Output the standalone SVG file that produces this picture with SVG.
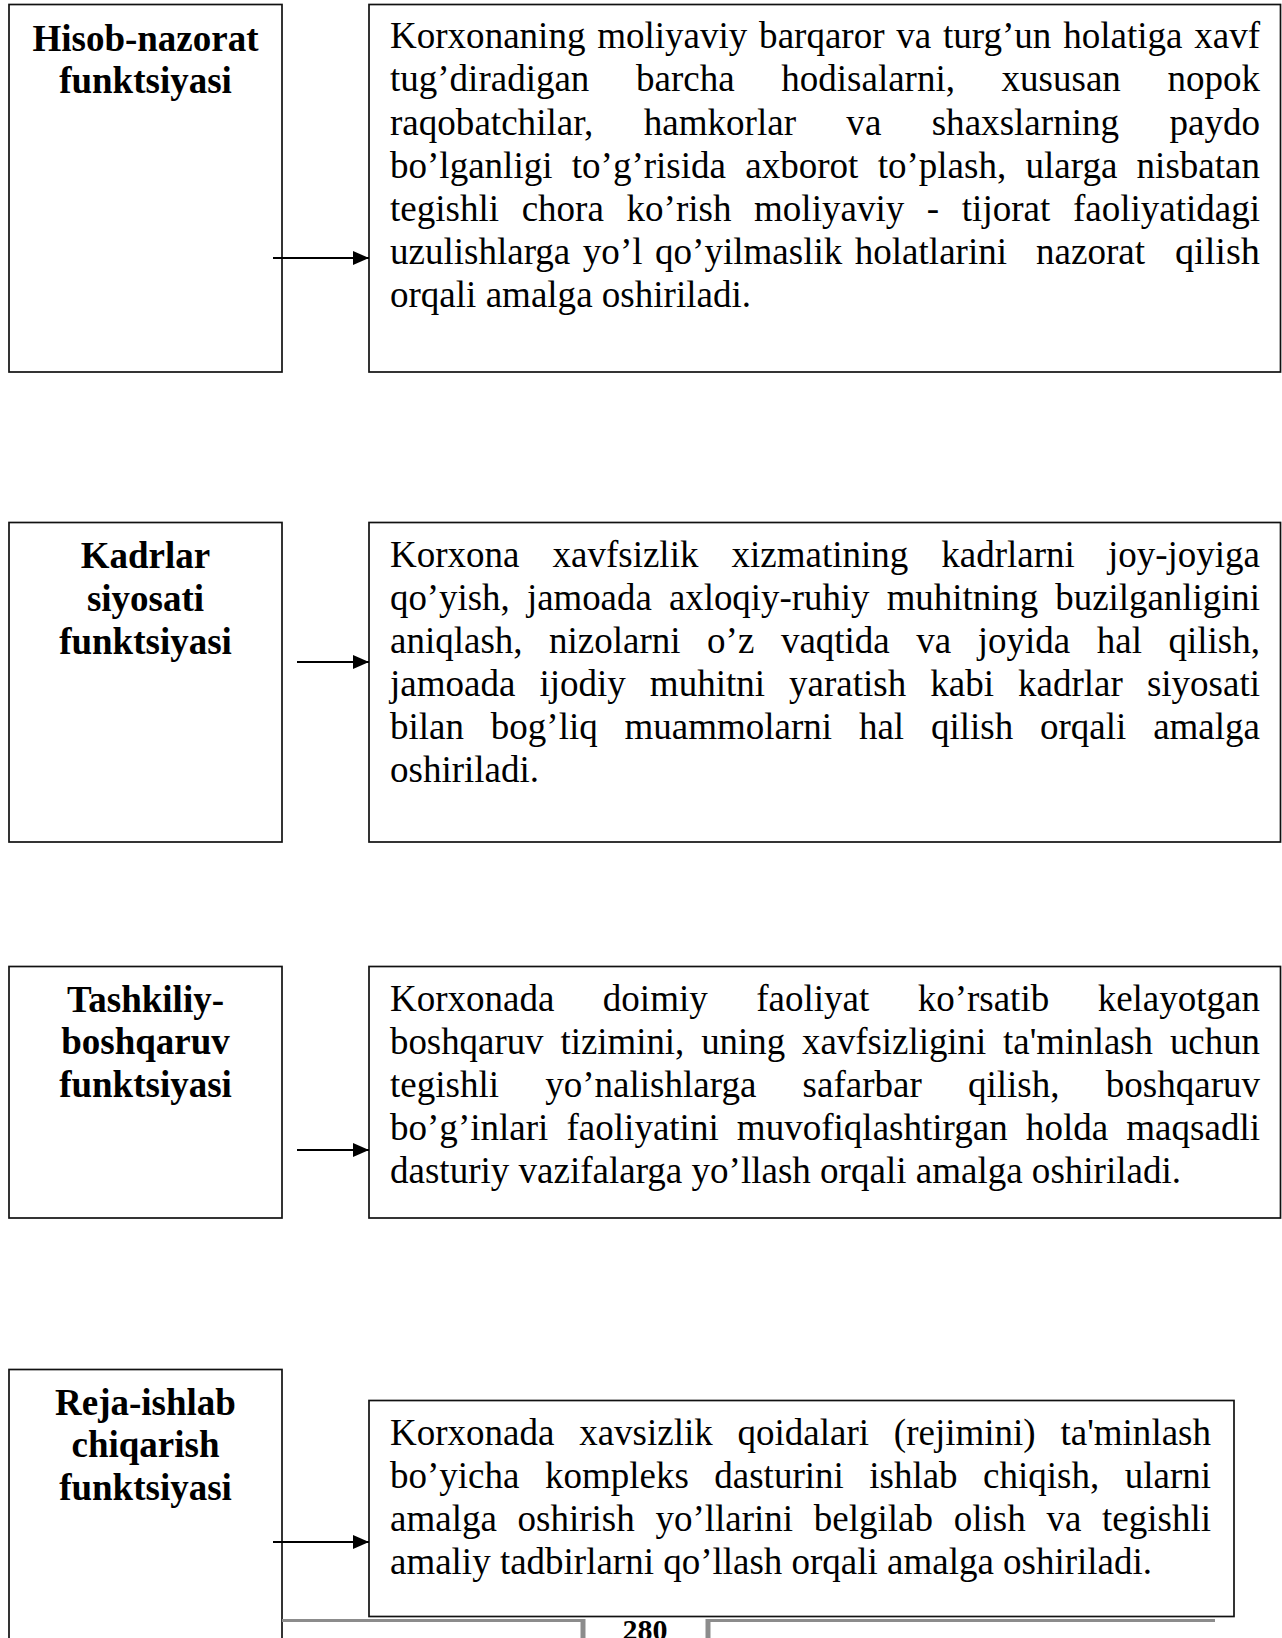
<svg xmlns="http://www.w3.org/2000/svg" width="1282" height="1638" viewBox="0 0 1282 1638">
<style>
.box{fill:#fff;stroke:#111;stroke-width:1.7}
.title{font-family:"Liberation Serif","Times New Roman",serif;font-weight:bold;font-size:37px;text-anchor:middle;fill:#000}
.body{font-family:"Liberation Serif","Times New Roman",serif;font-size:37px;fill:#000}
.conn{stroke:#000;stroke-width:2.2;fill:none}
.rule{stroke:#8c8c8c;fill:none}
.pg{font-family:"Liberation Serif","Times New Roman",serif;font-weight:bold;font-size:30px;text-anchor:middle;fill:#000}
</style>
<defs>
<marker id="arrow" markerUnits="userSpaceOnUse" markerWidth="16" markerHeight="14" refX="16" refY="7" orient="auto">
<path d="M0,0 L16,7 L0,14 z" fill="#000"/>
</marker>
</defs>
<rect width="1282" height="1638" fill="#fff"/>

<g id="node-hisob-title">
<rect class="box" x="9" y="4.5" width="273" height="367.5"/>
<text class="title" x="145.5" y="51">Hisob-nazorat</text>
<text class="title" x="145.5" y="93">funktsiyasi</text>
</g>
<g id="node-hisob-desc">
<rect class="box" x="369" y="4.5" width="911.5" height="367.5"/>
<text class="body" x="390" y="48" textLength="870" lengthAdjust="spacingAndGlyphs" style="word-spacing:2.5px">Korxonaning moliyaviy barqaror va turg’un holatiga xavf</text>
<text class="body" x="390" y="91" textLength="870" lengthAdjust="spacingAndGlyphs" style="word-spacing:37.4px">tug’diradigan barcha hodisalarni, xususan nopok</text>
<text class="body" x="390" y="134.5" textLength="870" lengthAdjust="spacingAndGlyphs" style="word-spacing:41px">raqobatchilar, hamkorlar va shaxslarning paydo</text>
<text class="body" x="390" y="177.5" textLength="870" lengthAdjust="spacingAndGlyphs" style="word-spacing:10px">bo’lganligi to’g’risida axborot to’plash, ularga nisbatan</text>
<text class="body" x="390" y="220.5" textLength="870" lengthAdjust="spacingAndGlyphs" style="word-spacing:13.4px">tegishli chora ko’rish moliyaviy - tijorat faoliyatidagi</text>
<text class="body" x="390" y="263.5" textLength="617" lengthAdjust="spacingAndGlyphs" style="word-spacing:3.3px">uzulishlarga yo’l qo’yilmaslik holatlarini</text>
<text class="body" x="1036" y="263.5" textLength="109" lengthAdjust="spacingAndGlyphs">nazorat</text>
<text class="body" x="1175" y="263.5" textLength="85" lengthAdjust="spacingAndGlyphs">qilish</text>
<text class="body" x="390" y="306.5" textLength="361" lengthAdjust="spacingAndGlyphs">orqali amalga oshiriladi.</text>
</g>

<g id="node-kadrlar-title">
<rect class="box" x="9" y="522.5" width="273" height="319.5"/>
<text class="title" x="145.5" y="568">Kadrlar</text>
<text class="title" x="145.5" y="611">siyosati</text>
<text class="title" x="145.5" y="654">funktsiyasi</text>
</g>
<g id="node-kadrlar-desc">
<rect class="box" x="369" y="522.5" width="911.5" height="319.5"/>
<text class="body" x="390" y="566.5" textLength="870" lengthAdjust="spacingAndGlyphs" style="word-spacing:23.8px">Korxona xavfsizlik xizmatining kadrlarni joy-joyiga</text>
<text class="body" x="390" y="609.5" textLength="870" lengthAdjust="spacingAndGlyphs" style="word-spacing:8px">qo’yish, jamoada axloqiy-ruhiy muhitning buzilganligini</text>
<text class="body" x="390" y="652.5" textLength="870" lengthAdjust="spacingAndGlyphs" style="word-spacing:17.3px">aniqlash, nizolarni o’z vaqtida va joyida hal qilish,</text>
<text class="body" x="390" y="695.5" textLength="870" lengthAdjust="spacingAndGlyphs" style="word-spacing:14.8px">jamoada ijodiy muhitni yaratish kabi kadrlar siyosati</text>
<text class="body" x="390" y="738.5" textLength="870" lengthAdjust="spacingAndGlyphs" style="word-spacing:17.6px">bilan bog’liq muammolarni hal qilish orqali amalga</text>
<text class="body" x="390" y="781.5" textLength="149" lengthAdjust="spacingAndGlyphs">oshiriladi.</text>
</g>

<g id="node-tashkiliy-title">
<rect class="box" x="9" y="966.5" width="273" height="251.5"/>
<text class="title" x="145.5" y="1012">Tashkiliy-</text>
<text class="title" x="145.5" y="1054">boshqaruv</text>
<text class="title" x="145.5" y="1097">funktsiyasi</text>
</g>
<g id="node-tashkiliy-desc">
<rect class="box" x="369" y="966.5" width="911.5" height="251.5"/>
<text class="body" x="390" y="1010.5" textLength="870" lengthAdjust="spacingAndGlyphs" style="word-spacing:39.2px">Korxonada doimiy faoliyat ko’rsatib kelayotgan</text>
<text class="body" x="390" y="1053.5" textLength="870" lengthAdjust="spacingAndGlyphs" style="word-spacing:7.7px">boshqaruv tizimini, uning xavfsizligini ta'minlash uchun</text>
<text class="body" x="390" y="1096.5" textLength="870" lengthAdjust="spacingAndGlyphs" style="word-spacing:36.9px">tegishli yo’nalishlarga safarbar qilish, boshqaruv</text>
<text class="body" x="390" y="1139.5" textLength="870" lengthAdjust="spacingAndGlyphs" style="word-spacing:8.9px">bo’g’inlari faoliyatini muvofiqlashtirgan holda maqsadli</text>
<text class="body" x="390" y="1182.5" textLength="791" lengthAdjust="spacingAndGlyphs">dasturiy vazifalarga yo’llash orqali amalga oshiriladi.</text>
</g>

<g id="node-reja-title">
<rect class="box" x="9" y="1369.5" width="273" height="300"/>
<text class="title" x="145.5" y="1415">Reja-ishlab</text>
<text class="title" x="145.5" y="1457">chiqarish</text>
<text class="title" x="145.5" y="1500">funktsiyasi</text>
</g>

<g id="page-footer">
<line class="rule" x1="282" y1="1620.5" x2="583" y2="1620.5" stroke-width="3"/>
<line class="rule" x1="707" y1="1620.5" x2="1215" y2="1620.5" stroke-width="3"/>
<line class="rule" x1="583" y1="1619" x2="583" y2="1640" stroke-width="5"/>
<line class="rule" x1="708" y1="1619" x2="708" y2="1640" stroke-width="5"/>
<text class="pg" x="645" y="1640">280</text>
</g>

<g id="node-reja-desc">
<rect class="box" x="369" y="1400.5" width="865" height="216"/>
<text class="body" x="390" y="1445" textLength="821" lengthAdjust="spacingAndGlyphs" style="word-spacing:15.5px">Korxonada xavsizlik qoidalari (rejimini) ta'minlash</text>
<text class="body" x="390" y="1488" textLength="821" lengthAdjust="spacingAndGlyphs" style="word-spacing:16.2px">bo’yicha kompleks dasturini ishlab chiqish, ularni</text>
<text class="body" x="390" y="1531" textLength="821" lengthAdjust="spacingAndGlyphs" style="word-spacing:11.45px">amalga oshirish yo’llarini belgilab olish va tegishli</text>
<text class="body" x="390" y="1574" textLength="762" lengthAdjust="spacingAndGlyphs">amaliy tadbirlarni qo’llash orqali amalga oshiriladi.</text>
</g>

<g id="connectors">
<line class="conn" x1="273" y1="258" x2="369" y2="258" marker-end="url(#arrow)"/>
<line class="conn" x1="297" y1="662" x2="369" y2="662" marker-end="url(#arrow)"/>
<line class="conn" x1="297" y1="1150" x2="369" y2="1150" marker-end="url(#arrow)"/>
<line class="conn" x1="273" y1="1542" x2="369" y2="1542" marker-end="url(#arrow)"/>
</g>
</svg>
